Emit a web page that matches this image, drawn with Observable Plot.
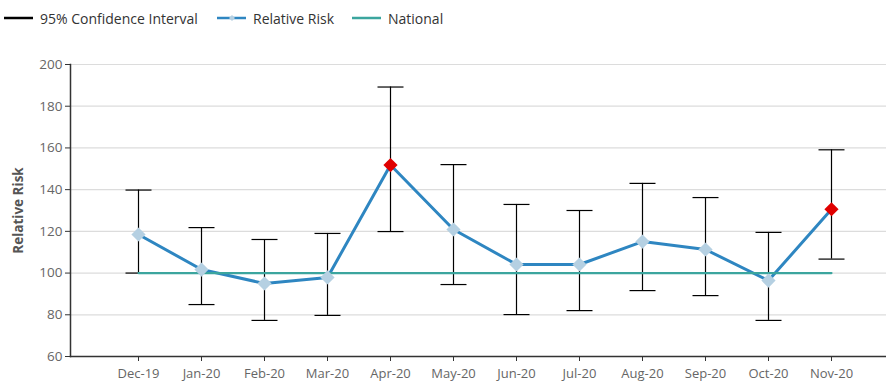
<!DOCTYPE html>
<html>
<head>
<meta charset="utf-8">
<script src="https://cdn.jsdelivr.net/npm/d3@7"></script>
<script src="https://cdn.jsdelivr.net/npm/@observablehq/plot@0.6"></script>
<style>
  body { margin: 0; background: #fff; font-family: "Open Sans", sans-serif; }
  #legend { position: relative; height: 40px; width: 886px; color: #333; font-size: 14px; }
  #legend .item { position: absolute; top: 8px; display: flex; align-items: center; height: 20px; }
  #legend svg { margin-right: 6px; }
  #chart svg { display: block; }
</style>
</head>
<body>
<div id="legend"></div>
<div id="chart"></div>
<script>
// Monthly relative risk with 95% confidence interval, against the national level
const months = ["Dec-19", "Jan-20", "Feb-20", "Mar-20", "Apr-20", "May-20", "Jun-20", "Jul-20", "Aug-20", "Sep-20", "Oct-20", "Nov-20"];
const relRisk = [118.5, 101.7, 95.0, 97.9, 151.8, 120.9, 104.1, 104.1, 115.1, 111.3, 96.4, 130.6];
const ciLower = [100.0, 84.9, 77.3, 79.7, 119.9, 94.5, 80.1, 82.0, 91.6, 89.2, 77.3, 106.7];
const ciUpper = [139.8, 121.8, 116.1, 119.0, 189.2, 152.0, 132.9, 130.0, 143.0, 136.2, 119.5, 159.1];
const national = [100, 100, 100, 100, 100, 100, 100, 100, 100, 100, 100, 100];
const yTicks = [60, 80, 100, 120, 140, 160, 180, 200];

const data = months.map((m, i) => ({
  month: m, rr: relRisk[i], lo: ciLower[i], hi: ciUpper[i], nat: national[i],
  signif: ciLower[i] > national[i]
}));

// Legend
const legendItems = [
  {label: "95% Confidence Interval", color: "#000", left: 4, diamond: false},
  {label: "Relative Risk", color: "#2e86c1", left: 217, diamond: true},
  {label: "National", color: "#3ba59e", left: 352, diamond: false}
];
const legend = document.getElementById("legend");
for (const it of legendItems) {
  const div = document.createElement("div");
  div.className = "item";
  div.style.left = it.left + "px";
  div.innerHTML = `<svg width="30" height="10"><line x1="0" x2="29" y1="5" y2="5" stroke="${it.color}" stroke-width="2.5"/>` +
    (it.diamond ? `<path d="M15,2L18,5L15,8L12,5Z" fill="#b5d0e2"/>` : "") +
    `</svg><span>${it.label}</span>`;
  legend.appendChild(div);
}

// Horizontal cap for the error bars
const capSymbol = {draw(context) { context.moveTo(-13, 0); context.lineTo(13, 0); }};

const chart = Plot.plot({
  width: 886,
  height: 341,
  marginTop: 24,
  marginBottom: 25,
  marginLeft: 70,
  marginRight: 0,
  style: {fontFamily: "'Open Sans', sans-serif", fontSize: "12px", color: "#666", background: "#fff"},
  x: {type: "point", domain: months, insetLeft: 64.7, insetRight: 51.7, padding: 0, label: null},
  y: {domain: [60, 200], label: null},
  marks: [
    Plot.ruleY(yTicks.slice(1), {stroke: "#dcdcdc", strokeWidth: 1.2}),
    Plot.ruleX(data, {x: "month", y1: "lo", y2: "hi", stroke: "#000", strokeWidth: 1.2}),
    Plot.dot(data, {x: "month", y: "hi", symbol: capSymbol, stroke: "#000", strokeWidth: 1.2, fill: "none"}),
    Plot.dot(data, {x: "month", y: "lo", symbol: capSymbol, stroke: "#000", strokeWidth: 1.2, fill: "none"}),
    Plot.line(data, {x: "month", y: "rr", stroke: "#2e86c1", strokeWidth: 3}),
    Plot.line(data, {x: "month", y: "nat", stroke: "#3ba59e", strokeWidth: 2.2}),
    Plot.dot(data, {x: "month", y: "rr", symbol: "diamond2", r: 6.4, stroke: null,
      fill: d => d.signif ? "#e00000" : "#b5d0e2"}),
    Plot.axisY({ticks: yTicks, tickSize: 5, tickPadding: 3, stroke: "#333", fill: "#666", fontSize: 13.5, label: null}),
    Plot.axisX({tickSize: 5, tickPadding: 7, stroke: "#333", fill: "#666", fontSize: 13, label: null}),
    Plot.frame({anchor: "left", stroke: "#333", strokeWidth: 1.5}),
    Plot.frame({anchor: "bottom", stroke: "#333", strokeWidth: 1.5}),
    Plot.text(["Relative Risk"], {frameAnchor: "left", textAnchor: "middle", dx: -52, rotate: -90,
      fontWeight: "bold", fontSize: 13.5, fill: "#555"})
  ]
});
document.getElementById("chart").appendChild(chart);
</script>
</body>
</html>
